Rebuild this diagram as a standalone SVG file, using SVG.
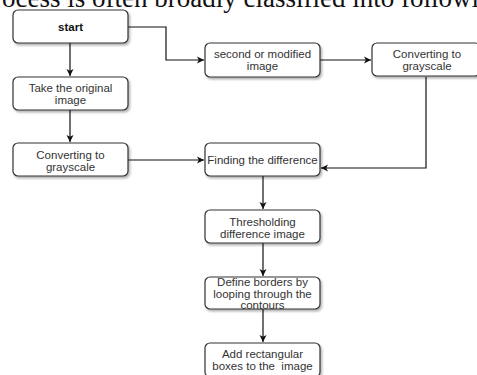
<svg xmlns="http://www.w3.org/2000/svg" width="477" height="375" viewBox="0 0 477 375">
<style>
.box{fill:#ffffff;stroke:#333333;stroke-width:1.2;filter:url(#sh)}
.t{font-family:"Liberation Sans",Arial,sans-serif;font-size:11.5px;fill:#333333;text-anchor:middle}
.b{font-weight:bold;fill:#111111}
.c{fill:none;stroke:#111111;stroke-width:1.2;marker-end:url(#ah)}
.hdr{font-family:"Liberation Serif","Times New Roman",serif;font-size:27px;fill:#111111}
</style>
<defs>
<filter id="sh" x="-10%" y="-20%" width="130%" height="160%">
<feDropShadow dx="1.5" dy="2" stdDeviation="1" flood-color="#000000" flood-opacity="0.3"/>
</filter>
<marker id="ah" markerWidth="8" markerHeight="8" refX="7" refY="4" orient="auto" markerUnits="userSpaceOnUse">
<path d="M0,0.5 L7,4 L0,7.5 L1.8,4 Z" fill="#111111"/>
</marker>
</defs>
<text class="hdr" x="-22" y="7">Process is often broadly classified into following</text>
<g id="connectors">
<path class="c" d="M128,27 H166 V60 H204"/>
<path class="c" d="M70,43 V76"/>
<path class="c" d="M70,110 V142"/>
<path class="c" d="M128,160 H204"/>
<path class="c" d="M320,60 H371"/>
<path class="c" d="M426,77 V168 H321"/>
<path class="c" d="M263,176 V209"/>
<path class="c" d="M263,243 V276"/>
<path class="c" d="M263,309 V342"/>
</g>
<g id="start">
<rect class="box" x="13" y="10" width="115" height="33" rx="5"/>
<text class="t b" x="70.5" y="31">start</text>
</g>
<g id="take-original">
<rect class="box" x="13" y="77" width="115" height="33" rx="5"/>
<text class="t" x="70.5" y="92">Take the original</text>
<text class="t" x="70.5" y="103.5">image</text>
</g>
<g id="convert-left">
<rect class="box" x="13" y="143" width="115" height="33" rx="5"/>
<text class="t" x="70.5" y="159">Converting to</text>
<text class="t" x="70.5" y="170.5">grayscale</text>
</g>
<g id="second-image">
<rect class="box" x="205" y="43" width="115" height="34" rx="5"/>
<text class="t" x="262.5" y="58">second or modified</text>
<text class="t" x="262.5" y="70">image</text>
</g>
<g id="convert-right">
<rect class="box" x="372" y="43" width="108" height="33" rx="5"/>
<text class="t" x="427" y="58">Converting to</text>
<text class="t" x="427" y="70">grayscale</text>
</g>
<g id="finding-difference">
<rect class="box" x="205" y="143" width="115" height="33" rx="5"/>
<text class="t" x="262.5" y="164">Finding the difference</text>
</g>
<g id="thresholding">
<rect class="box" x="205" y="210" width="115" height="33" rx="5"/>
<text class="t" x="262.5" y="226">Thresholding</text>
<text class="t" x="262.5" y="237.5">difference image</text>
</g>
<g id="define-borders">
<rect class="box" x="205" y="277" width="115" height="32" rx="5"/>
<text class="t" x="262.5" y="286">Define borders by</text>
<text class="t" x="262.5" y="297.5">looping through the</text>
<text class="t" x="262.5" y="309">contours</text>
</g>
<g id="add-boxes">
<rect class="box" x="205" y="343" width="115" height="34" rx="5"/>
<text class="t" x="262.5" y="358">Add rectangular</text>
<text class="t" x="262.5" y="369.5" xml:space="preserve">boxes to the  image</text>
</g>
</svg>
